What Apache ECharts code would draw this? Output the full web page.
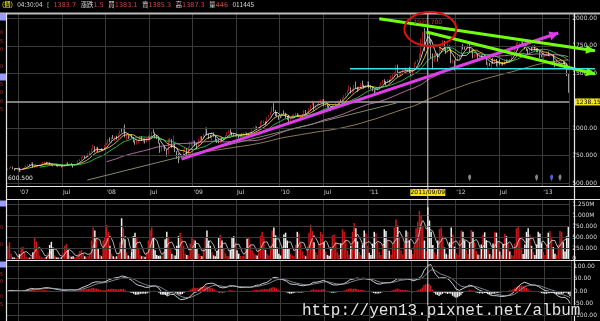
<!DOCTYPE html>
<html>
<head>
<meta charset="utf-8">
<title>Gold weekly</title>
<script src="https://cdn.jsdelivr.net/npm/echarts@6/dist/echarts.min.js"></script>
<style>
html,body{margin:0;padding:0;background:#000;}
#main{width:600px;height:321px;}
</style>
</head>
<body>
<div id="main"></div>
<script>
// weekly bars, one per friday starting 2006/11/17, open = previous close
var firstOpen = 622;
var closes = [
  626,638, 647,628,621,621,632,
  608,627,632,646, 660,666,665,686, 644,651,653,663,663, 677,689,689,677, 682,667,661,657, 667,659,654,657,650,
  655,665,682,665, 673,667,661,668,673, 702,714,734,743, 735,755,761,786, 808,833,785,823,783, 803,796,810,843,
  862,897,881,913, 908,921,906,948,975, 972,1000,921,932, 913,925,916,888, 853,885,895,924,887, 904,872,904,929,
  932,962,955,929, 910,864,790,832,834, 799,766,864,885, 831,842,788,735,718, 739,750,799,815, 752,823,837,872,
  878,854,838,899,919, 914,941,1002,942, 939,930,953,926, 898,870,869,913, 884,913,930,959,979, 959,940,931,940,
  932,911,937,952,953, 955,948,953,955, 995,1006,1012,991, 1003,1050,1052,1056,1040, 1095,1118,1146,1176, 1162,1120,1110,1104,
  1096,1138,1130,1091,1081, 1063,1093,1117,1118, 1134,1103,1105,1106, 1126,1161,1136,1142,1179, 1209,1229,1177,1212, 1218,1228,1256,1256,
  1209,1210,1189,1188,1181, 1204,1215,1227,1236, 1248,1246,1275,1296, 1317,1346,1369,1325,1357, 1394,1366,1352,1362, 1406,1385,1377,1380,1421,
  1369,1361,1342,1341, 1349,1360,1388,1409, 1429,1421,1418,1430, 1428,1474,1486,1504,1556, 1491,1492,1510,1536, 1542,1529,1538,1501,
  1483,1542,1594,1601,1628, 1651,1743,1852,1828, 1876,1856,1813,1656,1622, 1635,1682,1642,1745, 1754,1788,1724,1686, 1747,1712,1598,1606,1566,
  1617,1640,1665,1737, 1726,1725,1726,1778, 1711,1712,1656,1663,1669, 1631,1659,1642,1663, 1645,1581,1592,1573, 1622,1591,1626,1572,1604,
  1580,1590,1582,1618, 1603,1620,1616,1671,1692, 1740,1768,1773,1773, 1781,1758,1724,1713, 1676,1731,1714,1751,1712, 1705,1697,1657,1656,
  1656,1662,1687,1658, 1667,1667,1609,1573, 1576,1577,1592,1607,1596, 1581,1476,1383.7
];
var highs = [
  632,643, 653,650,632,626,636,
  640,630,636,650, 663,670,672,690, 688,656,658,666,670, 680,694,695,692, 688,686,670,664, 670,674,662,661,659,
  658,668,685,688, 677,680,670,672,676, 706,719,738,747, 746,757,772,790, 812,850,835,828,830, 808,815,814,848,
  868,900,915,918, 937,925,930,952,980, 995,1005,1033,950, 936,935,945,918, 890,890,900,930,928, 908,906,908,932,
  950,968,988,960, 935,915,866,838,842, 836,805,905,910, 900,935,860,792,770, 770,765,805,830, 820,828,880,876,
  890,885,860,905,930, 925,950,1007,1005, 950,940,962,960, 928,900,895,918, 915,918,935,962,982, 990,965,945,948,
  945,935,942,958,960, 970,958,956,960, 1000,1012,1025,1015, 1010,1062,1072,1070,1062, 1100,1120,1150,1195, 1227,1165,1140,1115,
  1110,1140,1160,1140,1110, 1120,1095,1125,1125, 1140,1136,1130,1112, 1130,1165,1165,1150,1180, 1212,1249,1232,1216, 1222,1250,1260,1262,
  1262,1215,1215,1205,1195, 1210,1220,1235,1242, 1252,1260,1280,1300, 1320,1350,1388,1372,1360, 1398,1424,1375,1380, 1410,1432,1395,1392,1425,
  1424,1390,1375,1352, 1360,1370,1390,1418, 1440,1445,1430,1446, 1440,1478,1488,1510,1575, 1578,1520,1515,1540, 1550,1550,1545,1558,
  1510,1545,1597,1610,1630, 1682,1815,1880,1912, 1885,1920.7,1865,1810,1680, 1680,1690,1685,1755, 1765,1800,1795,1730, 1765,1755,1715,1625,1618,
  1630,1660,1670,1740, 1765,1745,1740,1790, 1792,1720,1715,1675,1700, 1680,1680,1662,1670, 1675,1647,1600,1595, 1630,1640,1630,1630,1610,
  1625,1595,1600,1625, 1625,1625,1625,1675,1695, 1745,1778,1790,1780, 1798,1790,1762,1730, 1720,1735,1738,1755,1755, 1720,1725,1700,1668,
  1695,1678,1695,1697, 1680,1682,1675,1615, 1620,1595,1596,1615,1610, 1605,1590,1500
];
var lows = [
  617,624, 634,624,612,616,618,
  600.5,606,622,630, 644,656,660,662, 638,637,640,650,658, 661,675,680,673, 672,664,655,651, 654,652,648,649,642,
  646,653,663,662, 661,662,640,658,664, 670,700,712,728, 725,732,750,758, 784,805,778,782,780, 780,790,792,808,
  840,855,872,862, 900,884,895,903,945, 960,965,915,890, 902,905,908,870, 848,850,860,890,882, 866,860,868,885,
  920,915,950,905, 900,860,775,786,810, 790,740,760,860, 820,820,780,720,681, 710,720,730,790, 745,750,820,835,
  860,835,808,835,882, 890,908,938,935, 900,910,890,920, 880,865,862,866, 880,880,905,925,950, 950,930,925,918,
  925,905,908,932,938, 950,935,938,940, 950,990,1000,985, 985,1000,1040,1043,1025, 1038,1095,1115,1140, 1150,1110,1105,1075,
  1090,1094,1125,1088,1075, 1045,1060,1085,1090, 1110,1100,1100,1085, 1103,1124,1130,1130,1140, 1165,1205,1160,1175, 1195,1215,1225,1235,
  1200,1190,1185,1175,1155, 1178,1192,1212,1225, 1230,1240,1244,1270, 1290,1312,1340,1315,1320, 1330,1360,1330,1345, 1360,1380,1360,1372,1378,
  1362,1355,1335,1308, 1325,1340,1355,1385, 1405,1400,1390,1412, 1415,1425,1450,1480,1500, 1462,1480,1475,1505, 1525,1525,1510,1495,
  1478,1480,1535,1580,1598, 1625,1650,1740,1700, 1810,1815,1770,1630,1535, 1600,1625,1605,1635, 1700,1740,1715,1675, 1685,1705,1590,1590,1523,
  1560,1610,1625,1655, 1715,1715,1710,1725, 1690,1680,1635,1640,1650, 1612,1628,1630,1635, 1630,1575,1530,1565, 1550,1585,1585,1562,1550,
  1575,1565,1570,1570, 1595,1600,1600,1615,1655, 1690,1730,1760,1755, 1765,1755,1718,1700, 1673,1675,1705,1712,1705, 1690,1690,1635,1645,
  1625,1645,1660,1655, 1650,1660,1605,1555, 1565,1562,1570,1590,1590, 1540,1472,1321
];
// weekly volume, thousands
var volumes = [
  300,380, 120,40,30,25,30,
  110,260,280,150, 50,30,30,40, 150,480,400,220,80, 40,30,30,45, 140,320,390,260, 80,35,30,30,40,
  130,300,340,210, 80,50,60,40,50, 120,180,200,130, 60,50,60,110, 420,720,650,480,240, 90,60,420,500,
  780,620,300,120, 60,50,60,130,380, 930,700,450,150, 80,60,170,520, 600,480,250,90,60, 60,50,150,420,
  650,720,480,200, 90,70,80,60,160, 450,620,500,250, 120,90,80,300,520, 600,450,300,120, 90,80,350,500,
  450,420,250,120,70, 60,230,500,650, 420,300,150,80, 60,180,480,550, 420,250,130,70,60, 210,480,520,380,
  200,120,70,60,70, 250,460,500,320, 200,130,100,80, 220,530,620,470,210, 120,80,300,650, 720,540,260,120,
  80,230,560,600,420, 250,120,80,60, 320,620,580,360, 170,90,60,280,600, 780,640,380,160, 90,340,620,560,
  380,170,90,70,260, 540,560,380,150, 90,360,680,620, 410,190,100,300,620, 820,700,400,160, 90,330,650,580,300,
  140,90,350,620, 590,380,160,90, 330,680,640,420, 190,100,330,720,900, 760,480,200,100, 360,650,620,420,
  210,110,330,700,850, 1100,980,760,420, 180,1180,880,620,320, 150,100,420,680, 720,520,260,120, 90,380,720,560,280,
  130,90,430,650, 620,420,210,110, 380,660,620,380,180, 100,90,330,560, 610,430,220,110, 80,350,620,600,380,
  170,90,340,570, 520,350,170,90,80, 350,700,740,480, 220,110,330,620, 700,560,300,150,90, 330,620,580,360,
  160,90,320,600, 640,470,270,120, 90,330,640,620,380, 170,520,750
];

var priceLabels = [500, 750, 1000, 1500, 1750, 2000];
var priceGrid = [500, 750, 1000, 1500, 1750, 2000];
var volLabels = [0, 250, 500, 750, 1000, 1250];
var macdLabels = [-100, -50, 0, 50, 100];

var peakIndex = 251;      // 2011/09/09
var peakPrice = 1920.7;
var lowIndex = 7;
var lowPrice = 600.5;
var markLevel = 1238.15;
var supportLevel = 1540;
var newsWeeks = [276, 316, 325, 330];
var newsColors = ['#a8a8a8', '#a8a8a8', '#6a7cff', '#a8a8a8'];

// drawn lines, [week index, price]
var trendLines = [
  { from: [47.5, 527], to: [232.4, 1229], color: '#7c8c6c', width: 1, arrow: false },
  { from: [103.8, 718], to: [329.0, 1866], color: '#dd3ee8', width: 3, arrow: true },
  { from: [222, 1995], to: [350.9, 1705], color: '#70ff10', width: 3, arrow: true },
  { from: [250.2, 1875], to: [350.9, 1493], color: '#70ff10', width: 3, arrow: true },
  { from: [204.5, supportLevel], to: [350.9, supportLevel], color: '#3fe0e0', width: 1.5, arrow: false }
];

function pad(n) { return n < 10 ? '0' + n : '' + n; }
var t0 = Date.UTC(2006, 10, 17);
var weeks = [], months = [];
for (var i = 0; i < closes.length; i++) {
  var d = new Date(t0 + i * 7 * 864e5);
  weeks.push(d.getUTCFullYear() + '/' + pad(d.getUTCMonth() + 1) + '/' + pad(d.getUTCDate()));
  months.push([d.getUTCFullYear(), d.getUTCMonth()]);
}
function tickText(i) {
  if (i === 0) return '';
  var m = months[i][1];
  if (m === months[i - 1][1]) return '';
  if (m === 0) return "'" + String(months[i][0]).slice(2);
  if (m === 6) return 'Jul';
  return '';
}
function isTick(i) { return tickText(i) !== ''; }

var ohlc = [], opens = [];
for (var i = 0; i < closes.length; i++) {
  var o = i === 0 ? firstOpen : closes[i - 1];
  opens.push(o);
  ohlc.push([o, closes[i], lows[i], highs[i]]);
}

function sma(arr, n) {
  var out = [];
  for (var i = 0; i < arr.length; i++) {
    if (i < n - 1) { out.push('-'); continue; }
    var s = 0;
    for (var k = i - n + 1; k <= i; k++) s += arr[k];
    out.push(+(s / n).toFixed(2));
  }
  return out;
}
function ema(arr, n) {
  var a = 2 / (n + 1), out = [arr[0]];
  for (var i = 1; i < arr.length; i++) out.push(out[i - 1] + a * (arr[i] - out[i - 1]));
  return out;
}
var e12 = ema(closes, 12), e26 = ema(closes, 26);
var dif = e12.map(function (v, i) { return v - e26[i]; });
var dea = ema(dif, 9);
var hist = dif.map(function (v, i) { return v - dea[i]; });

var upColor = '#ff2a2a', downColor = '#ffffff';
var gridLine = '#3a3a3a';
var labelFont = { color: '#d8d8d8', fontSize: 6, fontFamily: 'DejaVu Sans' };

function catAxis(gi, showLabel) {
  return {
    type: 'category', gridIndex: gi, data: weeks, boundaryGap: true,
    axisLine: { show: false }, axisTick: { show: false },
    axisLabel: {
      show: showLabel, interval: function (idx) { return isTick(idx); },
      formatter: function (v, idx) { return tickText(idx); },
      color: '#cfcfcf', fontSize: 6, fontFamily: 'DejaVu Sans', align: 'left', margin: 3
    },
    splitLine: { show: true, interval: function (idx) { return isTick(idx); }, lineStyle: { color: gridLine, width: 1 } }
  };
}
function valAxis(gi, min, max, labels, fmt) {
  return {
    type: 'value', gridIndex: gi, position: 'right', min: min, max: max, scale: true,
    axisLine: { show: false }, axisTick: { show: false }, splitLine: { show: false },
    axisLabel: Object.assign({ customValues: labels, formatter: fmt, margin: 3, showMinLabel: true, showMaxLabel: true }, labelFont)
  };
}
function hLines(vals) {
  return {
    silent: true, symbol: ['none', 'none'], animation: false,
    label: { show: false }, lineStyle: { color: gridLine, width: 1, type: 'solid' },
    data: vals.map(function (v) { return { yAxis: v }; })
  };
}

var maDefs = [
  { n: 5, color: '#f4f4f4' },
  { n: 10, color: '#ffe23a' },
  { n: 20, color: '#38d86a' },
  { n: 60, color: '#d986c8' },
  { n: 120, color: '#b89a6a' }
];

var series = [
  { type: 'line', xAxisIndex: 0, yAxisIndex: 0, data: [], z: 0, markLine: hLines(priceGrid) },
  {
    type: 'candlestick', xAxisIndex: 0, yAxisIndex: 0, data: ohlc, barWidth: 1, z: 3,
    itemStyle: { color: upColor, color0: downColor, borderColor: upColor, borderColor0: downColor, borderWidth: 0.6 },
    markLine: {
      silent: true, symbol: ['none', 'none'], label: { show: false },
      lineStyle: { color: '#a9a9a9', width: 1.6, type: 'solid' },
      data: [{ yAxis: markLevel }]
    }
  }
];
maDefs.forEach(function (m) {
  series.push({ type: 'line', xAxisIndex: 0, yAxisIndex: 0, data: sma(closes, m.n), showSymbol: false,
    lineStyle: { color: m.color, width: 0.8 }, z: 4, silent: true });
});
series.push({
  type: 'scatter', xAxisIndex: 0, yAxisIndex: 0, symbol: 'pin', symbolSize: [5, 8], z: 5,
  data: newsWeeks.map(function (w, k) { return { value: [w, 512], itemStyle: { color: newsColors[k] } }; })
});
series.push({ type: 'line', xAxisIndex: 1, yAxisIndex: 1, data: [], z: 0, markLine: hLines([250, 500, 750, 1000, 1250]) });
series.push({
  type: 'bar', xAxisIndex: 1, yAxisIndex: 1, barWidth: '90%', z: 3,
  data: volumes.map(function (v, i) {
    return { value: v, itemStyle: { color: closes[i] >= opens[i] ? '#c81818' : '#f0f0f0' } };
  })
});
series.push({ type: 'line', xAxisIndex: 1, yAxisIndex: 1, data: sma(volumes, 5), showSymbol: false,
  lineStyle: { color: '#dcdcdc', width: 0.8 }, z: 4 });
series.push({ type: 'line', xAxisIndex: 2, yAxisIndex: 2, data: [], z: 0, markLine: hLines([-100, -50, 0, 50, 100]) });
series.push({
  type: 'bar', xAxisIndex: 2, yAxisIndex: 2, barWidth: '80%', z: 3,
  data: hist.map(function (v) { return { value: +v.toFixed(2), itemStyle: { color: v >= 0 ? '#e01818' : '#f0f0f0' } }; })
});
series.push({ type: 'line', xAxisIndex: 2, yAxisIndex: 2, data: dif.map(function (v) { return +v.toFixed(2); }),
  showSymbol: false, lineStyle: { color: '#ffffff', width: 0.8 }, z: 4 });
series.push({ type: 'line', xAxisIndex: 2, yAxisIndex: 2, data: dea.map(function (v) { return +v.toFixed(2); }),
  showSymbol: false, lineStyle: { color: '#9aa6b4', width: 0.8 }, z: 4 });

var option = {
  backgroundColor: '#000',
  animation: false,
  grid: [
    { left: 7, right: 26, top: 14, height: 172 },
    { left: 7, right: 26, top: 200, height: 60 },
    { left: 7, right: 26, top: 261, height: 60 }
  ],
  xAxis: [catAxis(0, true), catAxis(1, false), catAxis(2, false)],
  yAxis: [
    valAxis(0, 472.7, 2039.2, priceLabels, function (v) { return v >= 1000 ? v.toFixed(2) : v.toFixed(3); }),
    valAxis(1, -25.2, 1348.4, volLabels, function (v) { return v === 0 ? '0' : (v >= 1000 ? (v / 1000).toFixed(3) + 'M' : v.toFixed(3)); }),
    valAxis(2, -121.5, 121.5, macdLabels, function (v) { return v.toFixed(2); })
  ],
  series: series
};

var chart = echarts.init(document.getElementById('main'));
chart.setOption(option);

function xPix(i) {
  var a = Math.floor(i);
  var p0 = chart.convertToPixel({ xAxisIndex: 0 }, a);
  var p1 = chart.convertToPixel({ xAxisIndex: 0 }, a + 1);
  return p0 + (p1 - p0) * (i - a);
}
function yPix(v) { return chart.convertToPixel({ yAxisIndex: 0 }, v); }

var g = [];
// panel frames
g.push({ type: 'rect', shape: { x: 0, y: 12.5, width: 600, height: 2 }, style: { fill: '#bcbcbc' }, z: 10 });
[186.5, 199.5, 260.5].forEach(function (y) {
  g.push({ type: 'line', shape: { x1: 6, y1: y, x2: 600, y2: y }, style: { stroke: '#e6e6e6', lineWidth: 1.2 }, z: 10 });
});
[6.5, 574.5].forEach(function (x) {
  g.push({ type: 'line', shape: { x1: x, y1: 13, x2: x, y2: 321 }, style: { stroke: '#e6e6e6', lineWidth: 1.2 }, z: 10 });
});
// left legend stubs
[[13.5, 20.5], [73.5, 80.5], [200.5, 206.5], [261.5, 267.5]].forEach(function (r) {
  g.push({ type: 'rect', shape: { x: 0, y: r[0], width: 6, height: r[1] - r[0] }, style: { fill: '#9a9cff' }, z: 11 });
});
[33, 42, 50, 67, 85, 93, 102, 110, 228, 245, 275, 282, 297, 305].forEach(function (y, k) {
  g.push({ type: 'text', x: 0, y: y, style: { text: k % 3 === 1 ? '5' : '0', fill: '#b03030', font: '5px DejaVu Sans', textVerticalAlign: 'middle' }, z: 11 });
});

// crosshair
var cx = xPix(peakIndex);
g.push({ type: 'line', shape: { x1: cx, y1: 14, x2: cx, y2: 321 }, style: { stroke: '#d8d8d8', lineWidth: 1 }, z: 9 });
g.push({ type: 'rect', shape: { x: cx - 17.5, y: 189, width: 35, height: 7 }, style: { fill: '#f2e21c' }, z: 12 });
g.push({ type: 'text', x: cx, y: 192.6, style: { text: weeks[peakIndex], fill: '#000', font: '6px DejaVu Sans', textAlign: 'center', textVerticalAlign: 'middle' }, z: 13 });

// trend lines with arrows
trendLines.forEach(function (t) {
  var x1 = xPix(t.from[0]), y1 = yPix(t.from[1]), x2 = xPix(t.to[0]), y2 = yPix(t.to[1]);
  g.push({ type: 'line', shape: { x1: x1, y1: y1, x2: x2, y2: y2 }, style: { stroke: t.color, lineWidth: t.width }, z: 14 });
  if (t.arrow) {
    var dx = x2 - x1, dy = y2 - y1, len = Math.sqrt(dx * dx + dy * dy);
    dx /= len; dy /= len;
    var bx = x2 - dx * 9, by = y2 - dy * 9;
    g.push({ type: 'polygon', shape: { points: [[x2, y2], [bx - dy * 4.5, by + dx * 4.5], [bx + dy * 4.5, by - dx * 4.5]] }, style: { fill: t.color }, z: 14 });
  }
});

// peak circle and value
var px0 = xPix(peakIndex + 1.5), py0 = yPix(1902);
g.push({ type: 'ellipse', shape: { cx: px0, cy: py0, rx: 26, ry: 17 }, style: { stroke: '#e01010', fill: null, lineWidth: 2 }, z: 15 });
g.push({ type: 'text', x: xPix(peakIndex), y: yPix(peakPrice) - 5, style: { text: peakPrice.toFixed(3), fill: '#e03030', font: '6px DejaVu Sans', textAlign: 'center', textVerticalAlign: 'middle' }, z: 15 });
// lowest value
g.push({ type: 'text', x: 8, y: yPix(lowPrice) + 6, style: { text: lowPrice.toFixed(3), fill: '#e8e8e8', font: '6px DejaVu Sans', textVerticalAlign: 'middle' }, z: 15 });
// level tag
var ly = yPix(markLevel);
g.push({ type: 'rect', shape: { x: 575, y: ly - 3.5, width: 25, height: 7 }, style: { fill: '#f4e81a' }, z: 12 });
g.push({ type: 'text', x: 576, y: ly, style: { text: markLevel.toFixed(2), fill: '#000', font: '6px DejaVu Sans', textVerticalAlign: 'middle' }, z: 13 });

// quote bar
g.push({
  type: 'text', x: 2, y: 5, z: 20,
  style: {
    text: '{y|(週)}   {w|04:30:04}   {w|[}   {r|1383.7}   {w|漲跌}{r|1.5}   {w|買}{r|1383.1}   {w|賣}{r|1385.3}   {w|高}{r|1387.3}   {w|量}{r|446}   {w|011445}',
    textVerticalAlign: 'middle', font: '6.5px Noto Sans CJK TC',
    rich: {
      y: { fill: '#ffff20', font: '6.5px Noto Sans CJK TC' },
      w: { fill: '#d8d8d8', font: '6.5px Noto Sans CJK TC' },
      r: { fill: '#d04848', font: '6.5px DejaVu Sans' }
    }
  }
});
// watermark
g.push({ type: 'text', x: 302, y: 311, z: 20,
  style: { text: 'http://yen13.pixnet.net/album', fill: '#e4e4e4', stroke: '#000', lineWidth: 1.5, font: '16px Liberation Mono', textVerticalAlign: 'middle' } });

chart.setOption({ graphic: g });
</script>
</body>
</html>
